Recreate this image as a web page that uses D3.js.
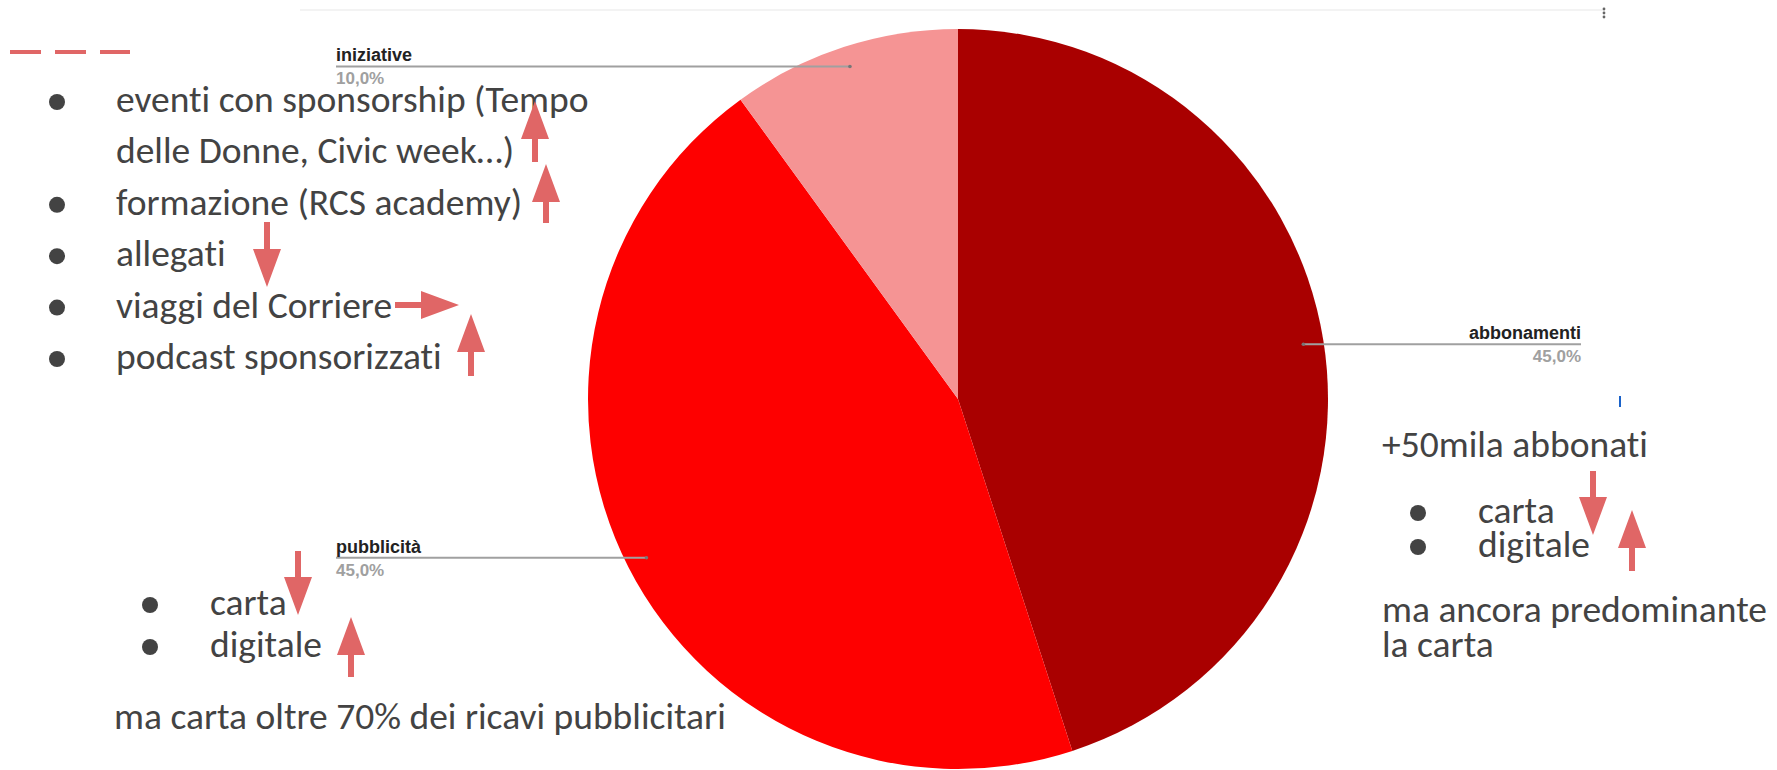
<!DOCTYPE html>
<html>
<head>
<meta charset="utf-8">
<script src="https://cdn.jsdelivr.net/npm/d3@7"></script>
<style>
  body { margin: 0; background: #fff; }
  #chart { width: 1777px; height: 770px; }
  .note { font-family: Carlito, Lato, "Open Sans", sans-serif; fill: #434343; font-variant-ligatures: none; }
  .gc { font-family: Arial, "Liberation Sans", sans-serif; font-weight: bold; }
</style>
</head>
<body>
<div id="chart"></div>
<script>
// pie slices (Google chart)
const categories = ["abbonamenti", "pubblicità", "iniziative"];
const shares = [45, 45, 10];
const shareLabels = ["45,0%", "45,0%", "10,0%"];
const colors = ["#a90000", "#fe0000", "#f59494"];

// slide notes
const iniziativeItems = [
  ["eventi con sponsorship (Tempo", "delle Donne, Civic week…)"],
  ["formazione (RCS academy)"],
  ["allegati"],
  ["viaggi del Corriere"],
  ["podcast sponsorizzati"]
];
const pubblicitaItems = ["carta", "digitale"];
const pubblicitaNote = "ma carta oltre 70% dei ricavi pubblicitari";
const abbonamentiHead = "+50mila abbonati";
const abbonamentiItems = ["carta", "digitale"];
const abbonamentiNote = ["ma ancora predominante", "la carta"];

const width = 1777, height = 770;

const svg = d3.select("#chart")
  .append("svg")
  .attr("width", width)
  .attr("height", height);

// faint chart frame + menu
svg.append("line")
  .attr("x1", 300).attr("x2", 1605).attr("y1", 10).attr("y2", 10)
  .attr("stroke", "#f3f3f3").attr("stroke-width", 2);
svg.selectAll("circle.menu")
  .data([9, 13, 17])
  .enter().append("circle")
  .attr("class", "menu")
  .attr("cx", 1604).attr("cy", d => d).attr("r", 1.4)
  .attr("fill", "#666");
svg.append("rect")
  .attr("x", 1619).attr("y", 396).attr("width", 2).attr("height", 11)
  .attr("fill", "#1a62c9");

// PIE
const cx = 958, cy = 399, R = 370;
const pie = d3.pie().sort(null).value(d => d)(shares);
const arc = d3.arc().innerRadius(0).outerRadius(R);
const anchorArc = d3.arc().innerRadius(R * 0.945).outerRadius(R * 0.945);

const g = svg.append("g").attr("transform", `translate(${cx},${cy})`);
g.selectAll("path")
  .data(pie)
  .enter()
  .append("path")
  .attr("d", arc)
  .attr("fill", (d, i) => colors[i]);

// labels: x of label text, anchor side
const labelX = [1581, 336, 336];
pie.forEach((d, i) => {
  const [ax, ay] = anchorArc.centroid(d);
  const px = cx + ax, py = cy + ay;
  const right = i === 0;
  svg.append("line")
    .attr("x1", px).attr("x2", labelX[i])
    .attr("y1", py).attr("y2", py)
    .attr("stroke", "#a0a0a0").attr("stroke-width", 2);
  svg.append("circle")
    .attr("cx", px).attr("cy", py).attr("r", 1.8)
    .attr("fill", "#777");
  svg.append("text")
    .attr("class", "gc")
    .attr("x", labelX[i]).attr("y", py - 5)
    .attr("text-anchor", right ? "end" : "start")
    .attr("font-size", 18)
    .attr("fill", "#222")
    .text(categories[i]);
  svg.append("text")
    .attr("class", "gc")
    .attr("x", labelX[i]).attr("y", py + 18)
    .attr("text-anchor", right ? "end" : "start")
    .attr("font-size", 17)
    .attr("fill", "#a0a0a0")
    .text(shareLabels[i]);
});

// NOTES
const fs = 37.5;
function bulletList(items, bx, tx, y0, step) {
  let y = y0;
  items.forEach(item => {
    const lines = Array.isArray(item) ? item : [item];
    svg.append("circle")
      .attr("cx", bx).attr("cy", y - 10).attr("r", 8)
      .attr("fill", "#434343");
    lines.forEach(l => {
      svg.append("text")
        .attr("class", "note")
        .attr("x", tx).attr("y", y)
        .attr("font-size", fs)
        .text(l);
      y += step;
    });
  });
}

bulletList(iniziativeItems, 57, 116, 112, 51.4);
bulletList(pubblicitaItems, 150, 210, 615, 42);
svg.append("text").attr("class", "note")
  .attr("x", 114).attr("y", 729).attr("font-size", fs)
  .text(pubblicitaNote);

svg.append("text").attr("class", "note")
  .attr("x", 1382).attr("y", 457).attr("font-size", fs)
  .text(abbonamentiHead);
bulletList(abbonamentiItems, 1418, 1478, 523, 34);
abbonamentiNote.forEach((l, i) => {
  svg.append("text").attr("class", "note")
    .attr("x", 1382).attr("y", 622 + i * 35).attr("font-size", fs)
    .text(l);
});

// ARROWS (tail -> tip)
const arrowColor = "#e06666";
const arrows = [
  [535, 162, 535, 101],
  [546, 223, 546, 164],
  [267, 222, 267, 287],
  [395, 305, 459, 305],
  [471, 376, 471, 314],
  [298, 551, 298, 615],
  [351, 677, 351, 617],
  [1593, 471, 1593, 535],
  [1632, 571, 1632, 510]
];
function arrowPath([x1, y1, x2, y2]) {
  const len = Math.hypot(x2 - x1, y2 - y1);
  const ux = (x2 - x1) / len, uy = (y2 - y1) / len;
  const nx = -uy, ny = ux;
  const sw = 3, hw = 14, hl = 38;
  const bx = x2 - ux * hl, by = y2 - uy * hl;
  const p = d3.path();
  p.moveTo(x1 + nx * sw, y1 + ny * sw);
  p.lineTo(bx + nx * sw, by + ny * sw);
  p.lineTo(bx + nx * hw, by + ny * hw);
  p.lineTo(x2, y2);
  p.lineTo(bx - nx * hw, by - ny * hw);
  p.lineTo(bx - nx * sw, by - ny * sw);
  p.lineTo(x1 - nx * sw, y1 - ny * sw);
  p.closePath();
  return p.toString();
}
svg.selectAll("path.arrow")
  .data(arrows)
  .enter()
  .append("path")
  .attr("class", "arrow")
  .attr("d", arrowPath)
  .attr("fill", arrowColor);

// dashed mark top-left
svg.append("line")
  .attr("x1", 10).attr("x2", 130).attr("y1", 52).attr("y2", 52)
  .attr("stroke", arrowColor).attr("stroke-width", 4)
  .attr("stroke-dasharray", "31,14");
</script>
</body>
</html>
